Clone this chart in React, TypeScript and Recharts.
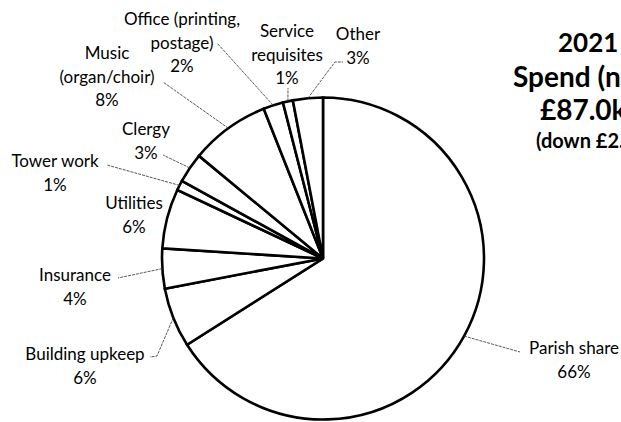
import React from "react";
import { PieChart, Pie, Cell } from "recharts";

// slices, clockwise from 12 o'clock
const categories = [
  "Parish share",
  "Building upkeep",
  "Insurance",
  "Utilities",
  "Tower work",
  "Clergy",
  "Music (organ/choir)",
  "Office (printing, postage)",
  "Service requisites",
  "Other",
];
const shares = [66, 6, 4, 6, 1, 3, 8, 2, 1, 3];

// label text lines (category split like the original)
const labelLines = [
  ["Parish share"],
  ["Building upkeep"],
  ["Insurance"],
  ["Utilities"],
  ["Tower work"],
  ["Clergy"],
  ["Music", "(organ/choir)"],
  ["Office (printing,", "postage)"],
  ["Service", "requisites"],
  ["Other"],
];

const titleLines = ["2021", "Spend (net)", "£87.0k"];
const subTitle = "(down £2.5k)";

const data = categories.map((name, i) => ({ name, value: shares[i] }));

// label layout: centre x, first line y, and where the leader line meets the label
const labelLayout: { x: number; y: number; lead?: number[][] }[] = [
  { x: 574, y: 347, lead: [[520, 352]] },
  { x: 85, y: 353, lead: [[157, 356], [150, 357]] },
  { x: 75, y: 274, lead: [[118, 278]] },
  { x: 134, y: 202 },
  { x: 55, y: 160, lead: [[107, 165]] },
  { x: 146, y: 128, lead: [[163, 155]] },
  { x: 107, y: 52, lead: [[163, 82]] },
  { x: 182, y: 18, lead: [[217, 43]] },
  { x: 287, y: 30, lead: [[288, 88]] },
  { x: 358, y: 33, lead: [[335, 62], [343, 62]] },
];

const RAD = Math.PI / 180;
const LINE_H = 23.5;
const FONT = "Lato, 'Open Sans', sans-serif";

function renderLabel(props: any) {
  const { cx, cy, midAngle, outerRadius, index, value } = props;
  const lay = labelLayout[index];
  const ax = cx + outerRadius * Math.cos(-midAngle * RAD);
  const ay = cy + outerRadius * Math.sin(-midAngle * RAD);
  const lines = [...labelLines[index], `${value}%`];
  const pts = lay.lead ? [[ax, ay], ...lay.lead] : null;
  return (
    <g key={`lbl-${index}`}>
      {pts && (
        <polyline
          points={pts.map((p) => p.join(",")).join(" ")}
          fill="none"
          stroke="#444"
          strokeWidth={0.9}
          strokeDasharray="3 1"
        />
      )}
      <text
        x={lay.x}
        y={lay.y}
        textAnchor="middle"
        dominantBaseline="central"
        fontFamily={FONT}
        fontSize={17}
        fill="#000"
      >
        {lines.map((l, i) => (
          <tspan key={i} x={lay.x} y={lay.y + i * LINE_H}>
            {l}
          </tspan>
        ))}
      </text>
    </g>
  );
}

export default function App() {
  return (
    <div style={{ position: "absolute", left: 0, top: 0, width: 621, height: 422, background: "#fff", overflow: "hidden" }}>
      <PieChart width={621} height={422} margin={{ top: 0, right: 0, bottom: 0, left: 0 }}>
        <Pie
          data={data}
          dataKey="value"
          nameKey="name"
          cx={323}
          cy={258.5}
          outerRadius={161}
          startAngle={90}
          endAngle={-270}
          stroke="#000"
          strokeWidth={2.6}
          label={renderLabel}
          labelLine={false}
          isAnimationActive={false}
        >
          {data.map((d) => (
            <Cell key={d.name} fill="#fff" />
          ))}
        </Pie>
      </PieChart>
      <svg width={621} height={422} style={{ position: "absolute", left: 0, top: 0, pointerEvents: "none" }}>
        <g fontFamily={FONT} fontWeight="bold" fill="#000">
          <text x={558} y={52} fontSize={26}>{titleLines[0]}</text>
          <text x={513} y={87} fontSize={28}>{titleLines[1]}</text>
          <text x={540} y={120} fontSize={28}>{titleLines[2]}</text>
          <text x={536} y={148} fontSize={20}>{subTitle}</text>
        </g>
      </svg>
    </div>
  );
}
